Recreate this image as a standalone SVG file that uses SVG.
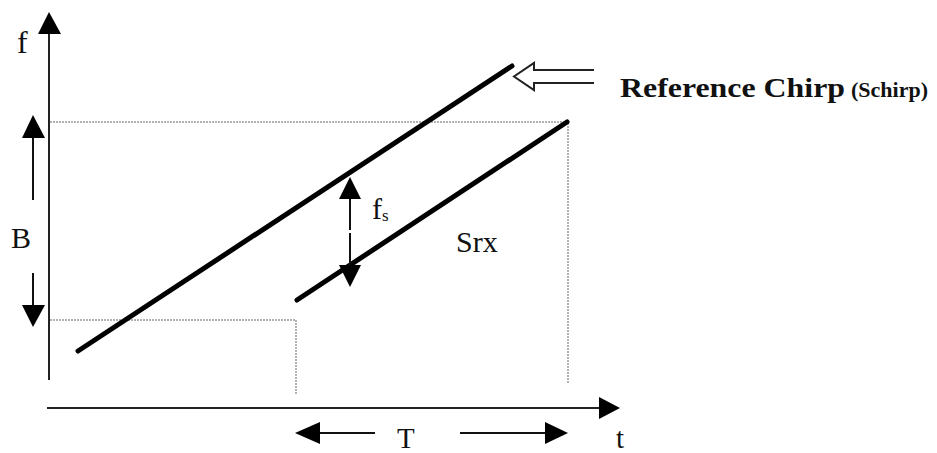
<svg xmlns="http://www.w3.org/2000/svg" width="937" height="453" viewBox="0 0 937 453">
<style>
.axis{stroke:#222;stroke-width:2;fill:none}
.chirp{stroke:#000;stroke-width:5;stroke-linecap:round;fill:none}
.dot{stroke:#999;stroke-width:1.5;stroke-dasharray:2 1;fill:none}
.arr{stroke:#111;stroke-width:2;fill:none}
.head{fill:#000;stroke:none}
.lbl{font-family:"Liberation Serif","Times New Roman",serif;fill:#111}
</style>
<rect width="937" height="453" fill="#fff"/>
<g id="guides">
<path class="dot" d="M50,122 H568 V383"/>
<path class="dot" d="M50,320 H296 V394"/>
</g>
<g id="axes">
<line class="axis" x1="49" y1="380" x2="49" y2="30"/>
<polygon class="head" points="49,12 38,34 61,34"/>
<line class="axis" x1="47" y1="408" x2="602" y2="408"/>
<polygon class="head" points="620,408 599,397 599,419"/>
<text class="lbl" x="17" y="53" font-size="32">f</text>
<text class="lbl" x="616" y="448" font-size="29">t</text>
</g>
<g id="chirps">
<line class="chirp" x1="78" y1="351" x2="512" y2="66"/>
<line class="chirp" x1="297" y1="300" x2="567" y2="122"/>
</g>
<g id="bandwidth">
<line class="arr" x1="33" y1="136" x2="33" y2="200"/>
<polygon class="head" points="33,115 22,138 45,138"/>
<line class="arr" x1="33" y1="273" x2="33" y2="307"/>
<polygon class="head" points="33,327 22,305 45,305"/>
<text class="lbl" x="11" y="248" font-size="30">B</text>
</g>
<g id="fs">
<line class="arr" x1="350" y1="197" x2="350" y2="230"/>
<line class="arr" x1="350" y1="233" x2="350" y2="267"/>
<polygon class="head" points="350,177 339,199 361,199"/>
<polygon class="head" points="350,287 339,265 361,265"/>
<text class="lbl" x="372" y="219" font-size="30">f<tspan font-size="17" dy="2">s</tspan></text>
</g>
<g id="srx">
<text class="lbl" x="456" y="252" font-size="30">Srx</text>
</g>
<g id="period">
<line class="arr" x1="318" y1="433" x2="375" y2="433"/>
<polygon class="head" points="295,433 320,422 320,444"/>
<line class="arr" x1="460" y1="433" x2="547" y2="433"/>
<polygon class="head" points="568,433 545,422 545,444"/>
<text class="lbl" x="397" y="448" font-size="29">T</text>
</g>
<g id="reference">
<path d="M594,70 H534 V63 L514,76.5 L534,90 V83 H594" fill="#fff" stroke="#222" stroke-width="2" stroke-linejoin="miter"/>
<text class="lbl" x="620" y="97" font-size="28" font-weight="bold" textLength="225" lengthAdjust="spacingAndGlyphs">Reference Chirp</text>
<text class="lbl" x="851" y="97" font-size="22" font-weight="bold">(Schirp)</text>
</g>
</svg>
